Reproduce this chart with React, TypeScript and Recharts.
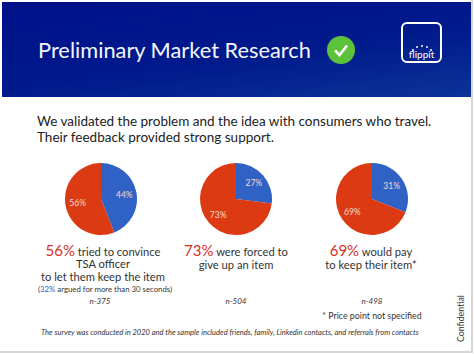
import { PieChart, Pie, Cell } from "recharts";

const sliceNames = ["Yes", "No"];
const pieOneValues = [44, 56];
const pieTwoValues = [27, 73];
const pieThreeValues = [31, 69];
const sampleLabels = ["n-375", "n-504", "n-498"];

const BLUE = "#2f62c4";
const RED = "#dc3a12";
const FONT = "Lato, 'Open Sans', sans-serif";
const RADIAN = Math.PI / 180;

function sliceLabel(props: any) {
  const { cx, cy, midAngle, outerRadius, percent } = props;
  const r = outerRadius * 0.66;
  return (
    <text
      x={cx + r * Math.cos(-midAngle * RADIAN)}
      y={cy + r * Math.sin(-midAngle * RADIAN)}
      fill="#f2dcd2"
      fontSize={8.5}
      fontFamily={FONT}
      textAnchor="middle"
      dominantBaseline="central"
    >
      {Math.round(percent * 100)}%
    </text>
  );
}

function SmallPie({ values, left }: { values: number[]; left: number }) {
  const data = sliceNames.map((name, i) => ({ name, value: values[i] }));
  return (
    <div style={{ position: "absolute", left, top: 159 }}>
      <PieChart width={80} height={80} margin={{ top: 0, right: 0, bottom: 0, left: 0 }}>
        <Pie
          data={data}
          dataKey="value"
          cx={40}
          cy={40}
          outerRadius={36}
          startAngle={90}
          endAngle={-270}
          stroke="none"
          label={sliceLabel}
          labelLine={false}
          isAnimationActive={false}
        >
          <Cell fill={BLUE} />
          <Cell fill={RED} />
        </Pie>
      </PieChart>
    </div>
  );
}

function Line({ x, y, size, children, italic, color }: any) {
  return (
    <div
      style={{
        position: "absolute",
        left: x - 100,
        width: 200,
        top: y,
        textAlign: "center",
        fontSize: size,
        lineHeight: "12px",
        fontStyle: italic ? "italic" : "normal",
        color: color || "#333",
        whiteSpace: "nowrap",
      }}
    >
      {children}
    </div>
  );
}

const Pct = ({ children }: any) => (
  <span style={{ color: "#d3301f", fontSize: 15 }}>{children}</span>
);

export default function App() {
  return (
    <div
      style={{
        position: "fixed",
        left: 0,
        top: 0,
        width: 474,
        height: 354,
        background: "#fff",
        fontFamily: FONT,
        overflow: "hidden",
      }}
    >
      {/* banner */}
      <div
        style={{
          position: "absolute",
          left: 2,
          top: 2,
          width: 469,
          height: 95,
          background: "linear-gradient(172deg, #00108a 0%, #001a8c 55%, #0b3398 100%)",
        }}
      />
      <div
        style={{
          position: "absolute",
          left: 38,
          top: 36,
          fontSize: 21.8,
          lineHeight: "28px",
          color: "#f4f6fb",
          whiteSpace: "nowrap",
        }}
      >
        Preliminary Market Research
      </div>
      <svg style={{ position: "absolute", left: 327, top: 36 }} width={28} height={28}>
        <circle cx={14} cy={14} r={14} fill="#5cc23c" />
        <path d="M8 14.5 L12.5 19 L20 9.5" fill="none" stroke="#fff" strokeWidth={2.6} />
      </svg>
      <div
        style={{
          position: "absolute",
          left: 401,
          top: 22,
          width: 37,
          height: 37,
          border: "2px solid #fff",
          borderRadius: 6,
          color: "#fff",
          textAlign: "center",
          fontSize: 10,
          lineHeight: "12px",
        }}
      >
        <svg style={{ position: "absolute", left: 8, top: 19 }} width={22} height={8}>
          {[[2, 7], [6, 4], [11, 3], [16, 4], [20, 7]].map(([x, y]) => (
            <circle key={x} cx={x} cy={y} r={1} fill="#fff" />
          ))}
        </svg>
        <div style={{ position: "absolute", left: 0, right: 0, top: 24 }}>flippit</div>
      </div>

      {/* subtitle */}
      <div
        style={{
          position: "absolute",
          left: 37,
          top: 113,
          fontSize: 13.5,
          lineHeight: "16px",
          color: "#222",
          whiteSpace: "nowrap",
        }}
      >
        We validated the problem and the idea with consumers who travel.
        <br />
        Their feedback provided strong support.
      </div>

      <SmallPie values={pieOneValues} left={61} />
      <SmallPie values={pieTwoValues} left={196} />
      <SmallPie values={pieThreeValues} left={332} />

      {/* first column */}
      <Line x={103} y={244} size={11.2}>
        <Pct>56%</Pct> tried to convince
      </Line>
      <Line x={103} y={258} size={11.2}>TSA officer</Line>
      <Line x={103} y={271} size={11.2}>to let them keep the item</Line>
      <Line x={105} y={283} size={7.8}>
        (<span style={{ color: BLUE }}>32%</span> argued for more than 30 seconds)
      </Line>
      <Line x={100} y={295} size={8} italic>{sampleLabels[0]}</Line>

      {/* second column */}
      <Line x={236} y={244} size={11.2}>
        <Pct>73%</Pct> were forced to
      </Line>
      <Line x={236} y={259} size={11.2}>give up an item</Line>
      <Line x={236} y={295} size={8} italic>{sampleLabels[1]}</Line>

      {/* third column */}
      <Line x={371} y={244} size={11.2}>
        <Pct>69%</Pct> would pay
      </Line>
      <Line x={371} y={259} size={11.2}>to keep their item*</Line>
      <Line x={372} y={295} size={8} italic>{sampleLabels[2]}</Line>
      <Line x={372} y={310} size={8.8}>* Price point not specified</Line>

      {/* footer */}
      <div
        style={{
          position: "absolute",
          left: 41,
          top: 328,
          fontSize: 7.55,
          lineHeight: "10px",
          fontStyle: "italic",
          color: "#333",
          whiteSpace: "nowrap",
        }}
      >
        The survey was conducted in 2020 and the sample included friends, family, Linkedin contacts, and referrals from contacts
      </div>
      <div
        style={{
          position: "absolute",
          left: 455,
          top: 342,
          fontSize: 8.8,
          lineHeight: "12px",
          color: "#333",
          whiteSpace: "nowrap",
          transformOrigin: "0 0",
          transform: "rotate(-90deg)",
        }}
      >
        Confidential
      </div>

      {/* slide edge */}
      <div style={{ position: "absolute", left: 471, top: 0, width: 2, height: 352, background: "#d6d6d6" }} />
      <div style={{ position: "absolute", left: 0, top: 351, width: 473, height: 2, background: "#d6d6d6" }} />
    </div>
  );
}
